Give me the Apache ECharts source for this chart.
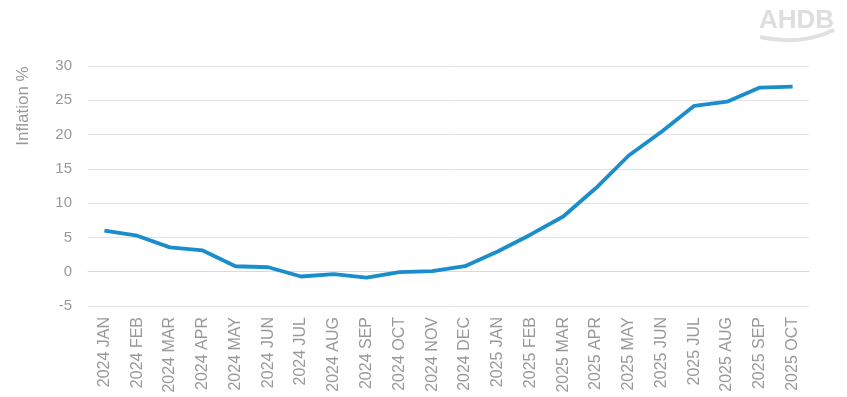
<!DOCTYPE html>
<html><head><meta charset="utf-8">
<script src="https://cdn.jsdelivr.net/npm/echarts@6/dist/echarts.min.js"></script>
<style>html,body{margin:0;padding:0;background:#fff}#c{width:847px;height:397px}</style>
</head><body><div id="c"></div>
<script>
var categories = ['2024 JAN','2024 FEB','2024 MAR','2024 APR','2024 MAY','2024 JUN','2024 JUL','2024 AUG','2024 SEP','2024 OCT','2024 NOV','2024 DEC','2025 JAN','2025 FEB','2025 MAR','2025 APR','2025 MAY','2025 JUN','2025 JUL','2025 AUG','2025 SEP','2025 OCT'];
var inflation = [6.0, 5.25, 3.55, 3.1, 0.8, 0.65, -0.7, -0.35, -0.85, -0.05, 0.1, 0.8, 2.95, 5.4, 8.05, 12.2, 16.95, 20.4, 24.2, 24.8, 26.85, 27.0];
var yTicks = {min: -5, max: 30, interval: 5};
var yTitle = 'Inflation %';

var chart = echarts.init(document.getElementById('c'), null, {renderer: 'canvas'});
var font = 'Liberation Sans, Arial, sans-serif';
var seriesData = inflation.map(function (v, i) {
  if (i === inflation.length - 1) {
    return {value: v, label: {show: true, position: 'right', distance: 12, formatter: function (p) { return Math.round(p.value); }, color: '#7f7f7f', fontSize: 16, fontFamily: font}};
  }
  return v;
});
chart.setOption({
  animation: false,
  backgroundColor: '#fff',
  grid: {left: 88, right: 38, top: 66, bottom: 91},
  xAxis: {
    type: 'category', data: categories, boundaryGap: true,
    axisLine: {show: true, lineStyle: {color: '#d9d9d9'}},
    axisTick: {show: false},
    axisLabel: {rotate: 90, color: '#999999', fontSize: 16, fontFamily: font, margin: 11, interval: 0}
  },
  yAxis: {
    type: 'value', min: yTicks.min, max: yTicks.max, interval: yTicks.interval,
    axisLine: {show: false}, axisTick: {show: false},
    splitLine: {lineStyle: {color: '#e3e3e3'}},
    axisLabel: {color: '#999999', fontSize: 15, fontFamily: font, margin: 16}
  },
  graphic: [
    {type: 'text', x: 23, y: 106, rotation: Math.PI / 2, style: {text: yTitle, fill: '#999999', font: '17px ' + font, align: 'center', verticalAlign: 'middle'}},
    {type: 'text', x: 759, y: 8, style: {text: 'AHDB', fill: '#dedede', font: 'bold 26px ' + font}},
    {type: 'bezierCurve', shape: {x1: 760, y1: 37, x2: 834, y2: 30, cpx1: 800, cpy1: 46}, style: {stroke: '#e0e0e0', lineWidth: 4, fill: null}}
  ],
  series: [{
    type: 'line', data: seriesData, showSymbol: false, symbol: 'none',
    lineStyle: {color: '#1a8dcc', width: 3.8},
    itemStyle: {color: '#1a8dcc'}
  }]
});
</script></body></html>
